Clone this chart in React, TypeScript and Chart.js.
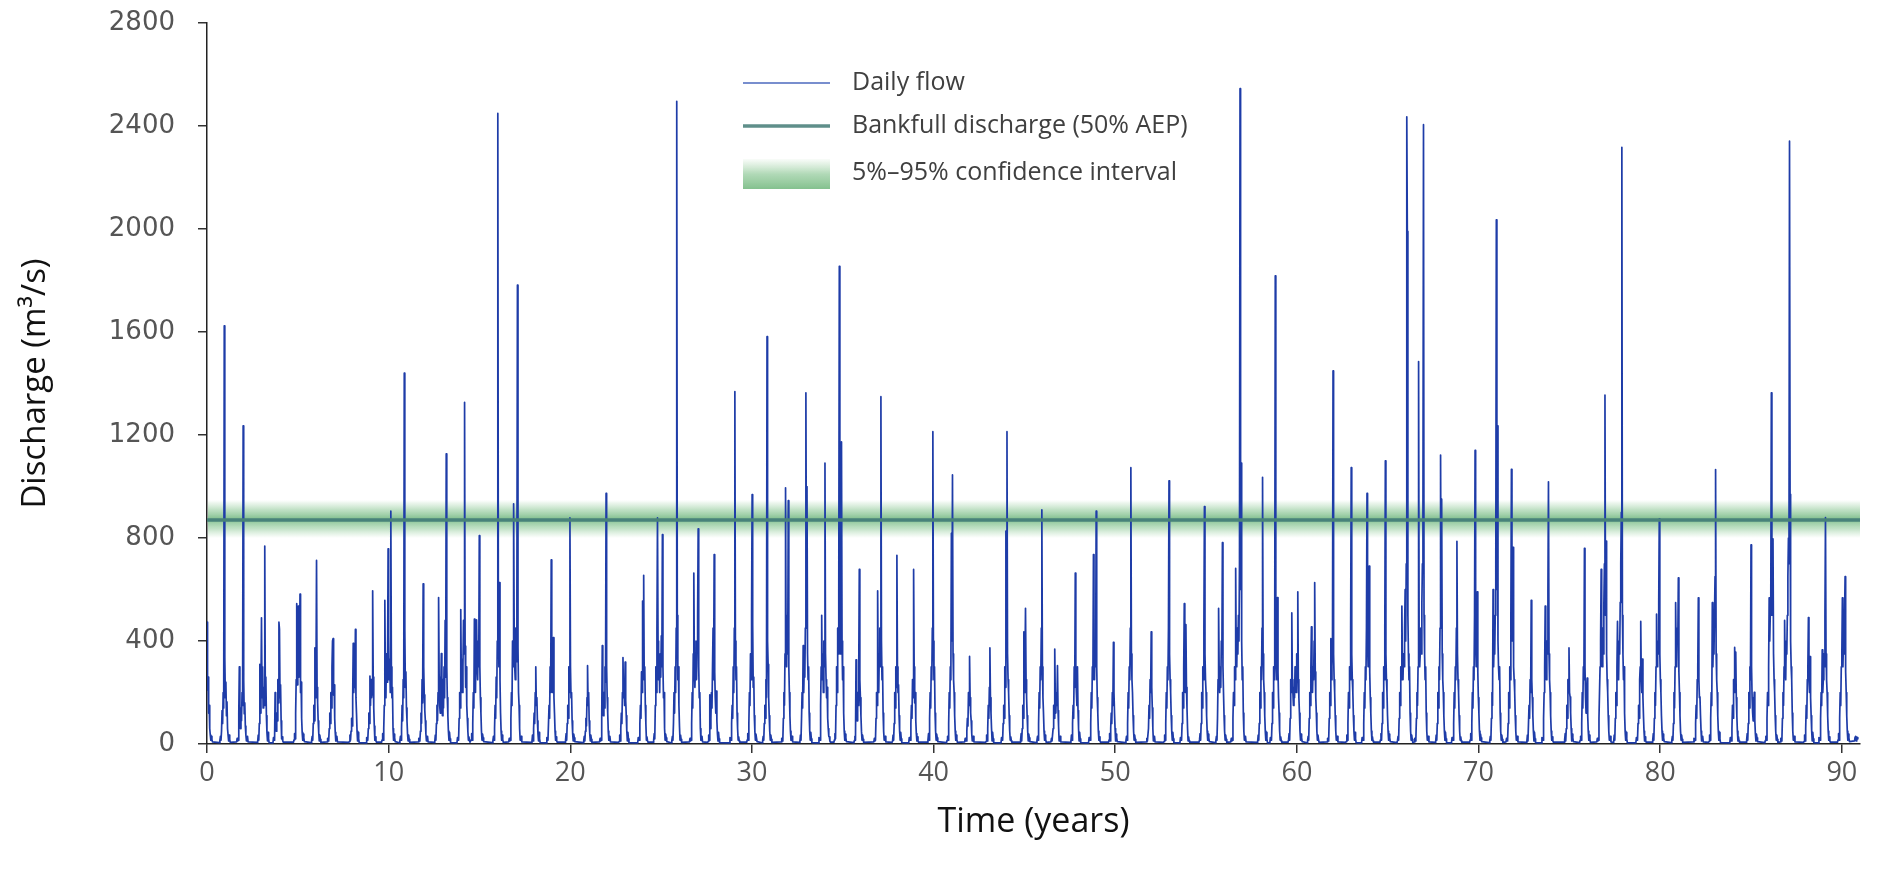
import React, { useEffect, useRef } from "react";
import { Chart, registerables } from "chart.js";

Chart.register(...registerables);

// ---------- data ----------
const xTickValues = [0, 10, 20, 30, 40, 50, 60, 70, 80, 90];
const yTickValues = [0, 400, 800, 1200, 1600, 2000, 2400, 2800];
const X_MAX = 91;
const Y_MAX = 2800;

const bankfullDischarge = 870;
const ciLower = 800;
const ciUpper = 948;

const legendLabels = [
  "Daily flow",
  "Bankfull discharge (50% AEP)",
  "5%\u201395% confidence interval",
];

// sampling interval inside each wet-season cluster (years)
const STEP = 0.03;

// start time (years) of each wet-season cluster
const seasonStart = [
  0.0, 0.68, 1.63, 2.76, 3.63, 4.76, 5.73, 6.61, 7.81, 8.76,
  9.61, 10.59, 11.63, 12.51, 13.76, 14.51, 15.71, 16.61, 17.86, 18.68,
  19.71, 20.71, 21.61, 22.66, 23.71, 24.56, 25.56, 26.56, 27.56, 28.76,
  29.71, 30.56, 31.61, 32.61, 33.66, 34.51, 35.61, 36.71, 37.71, 38.63,
  39.66, 40.71, 41.71, 42.86, 43.71, 44.76, 45.66, 46.46, 47.53, 48.53,
  49.63, 50.56, 51.71, 52.66, 53.56, 54.61, 55.51, 56.36, 57.81, 58.51,
  59.51, 60.56, 61.66, 62.69, 63.56, 64.57, 65.51, 66.46, 67.61, 68.51,
  69.51, 70.59, 71.51, 72.63, 73.46, 74.71, 75.56, 76.51, 77.41, 78.66,
  79.56, 80.61, 81.83, 82.66, 83.83, 84.73, 85.76, 86.61, 87.89, 88.71,
  89.76, 90.7,
];

// daily discharge (m3/s) within each cluster
const seasonFlow = [
  [473, 210, 260, 120, 150, 60, 35, 15, 30, 18, 8],
  [5, 14, 30, 15, 50, 130, 80, 200, 140, 1624, 336, 180, 240, 110, 164, 60, 35, 12, 35, 18, 6],
  [8, 22, 12, 15, 120, 300, 90, 60, 140, 90, 200, 150, 1236, 250, 118, 160, 70, 35, 12, 22, 30, 8],
  [6, 10, 35, 15, 80, 309, 120, 210, 490, 180, 300, 140, 220, 150, 769, 200, 260, 110, 45, 12, 45, 20, 5],
  [4, 25, 18, 15, 200, 70, 50, 120, 90, 250, 160, 473, 445, 180, 230, 90, 20, 28, 12, 7],
  [7, 16, 40, 20, 120, 250, 545, 230, 350, 536, 260, 320, 582, 200, 240, 100, 45, 15, 38, 24, 9],
  [5, 14, 30, 15, 80, 150, 90, 373, 180, 260, 713, 220, 160, 90, 45, 12, 35, 18, 6],
  [8, 22, 12, 15, 60, 120, 80, 200, 140, 300, 400, 409, 190, 230, 100, 45, 12, 22, 30, 8],
  [6, 10, 35, 15, 50, 100, 70, 180, 391, 200, 300, 220, 445, 180, 120, 50, 12, 45, 20, 5],
  [4, 25, 18, 15, 60, 120, 80, 264, 150, 250, 180, 200, 595, 260, 140, 70, 15, 28, 12, 7],
  [7, 16, 40, 15, 60, 150, 558, 260, 180, 350, 240, 300, 758, 420, 250, 330, 200, 904, 300, 180, 220, 60, 15, 38, 24, 9],
  [5, 14, 30, 15, 60, 150, 90, 250, 180, 1440, 445, 220, 280, 140, 90, 40, 12, 35, 18, 6],
  [8, 22, 12, 15, 50, 120, 80, 250, 160, 622, 300, 191, 130, 90, 40, 12, 22, 30, 8],
  [6, 10, 35, 15, 80, 150, 90, 200, 569, 260, 150, 120, 200, 351, 150, 110, 250, 140, 300, 180, 480, 260, 1127, 300, 180, 110, 50, 15, 45, 20, 5],
  [4, 25, 18, 15, 100, 200, 140, 522, 260, 330, 200, 300, 480, 350, 1327, 380, 220, 300, 150, 100, 50, 15, 28, 12, 7],
  [7, 16, 40, 15, 80, 200, 140, 485, 260, 200, 380, 482, 300, 250, 400, 300, 809, 300, 180, 120, 50, 15, 38, 24, 9],
  [5, 14, 30, 15, 60, 150, 100, 260, 180, 400, 2449, 500, 300, 627, 250, 120, 50, 15, 35, 18, 6],
  [8, 22, 12, 15, 100, 200, 150, 400, 300, 933, 450, 300, 250, 450, 320, 600, 1782, 380, 200, 150, 60, 15, 22, 30, 8],
  [6, 10, 35, 12, 60, 120, 80, 200, 300, 150, 180, 90, 40, 12, 45, 20, 5],
  [4, 25, 18, 15, 80, 150, 100, 300, 200, 715, 280, 200, 320, 413, 180, 120, 50, 15, 28, 12, 7],
  [7, 16, 40, 15, 80, 150, 100, 300, 200, 878, 300, 180, 200, 90, 40, 12, 38, 24, 9],
  [5, 14, 30, 12, 50, 100, 70, 180, 304, 150, 200, 90, 40, 12, 35, 18, 6],
  [8, 22, 12, 15, 100, 382, 150, 110, 200, 140, 300, 240, 973, 300, 180, 120, 50, 15, 22, 30, 8],
  [6, 10, 35, 12, 60, 120, 80, 200, 336, 180, 250, 150, 318, 170, 110, 50, 12, 45, 20, 5],
  [4, 25, 18, 15, 80, 150, 100, 280, 200, 555, 300, 655, 250, 300, 150, 80, 15, 28, 12, 7],
  [7, 16, 40, 20, 150, 300, 200, 450, 878, 400, 250, 320, 200, 350, 260, 420, 300, 813, 300, 180, 200, 60, 15, 38, 24, 9],
  [5, 14, 30, 15, 80, 200, 120, 300, 200, 450, 2496, 500, 250, 300, 150, 70, 15, 35, 18, 6],
  [8, 22, 12, 15, 80, 200, 140, 350, 664, 300, 220, 300, 400, 250, 380, 500, 836, 300, 180, 200, 60, 15, 22, 30, 8],
  [6, 10, 35, 15, 191, 60, 100, 200, 140, 300, 450, 250, 736, 280, 180, 120, 205, 90, 40, 12, 45, 20, 5],
  [4, 25, 18, 15, 80, 150, 100, 300, 200, 450, 1369, 400, 250, 300, 120, 60, 15, 28, 12, 7],
  [7, 16, 40, 15, 80, 200, 150, 350, 250, 500, 969, 464, 220, 260, 110, 50, 15, 38, 24, 9],
  [5, 14, 30, 15, 80, 150, 100, 250, 180, 1582, 400, 309, 180, 110, 50, 15, 35, 18, 6],
  [8, 22, 12, 15, 100, 200, 150, 350, 995, 400, 300, 500, 350, 945, 300, 200, 110, 50, 15, 22, 30, 8],
  [6, 10, 35, 15, 100, 200, 140, 382, 200, 300, 260, 450, 1364, 600, 1000, 350, 250, 300, 120, 50, 15, 45, 20, 5],
  [4, 25, 18, 15, 150, 300, 500, 250, 350, 200, 400, 300, 1091, 350, 250, 180, 220, 100, 60, 30, 28, 12, 7],
  [7, 16, 40, 20, 150, 300, 200, 450, 350, 600, 1855, 500, 350, 600, 1173, 400, 250, 300, 120, 50, 15, 38, 24, 9],
  [5, 14, 30, 15, 327, 120, 90, 200, 150, 300, 678, 250, 180, 110, 50, 15, 35, 18, 6],
  [8, 22, 12, 15, 100, 200, 150, 595, 300, 200, 350, 450, 300, 1349, 400, 250, 300, 120, 50, 15, 22, 30, 8],
  [6, 10, 35, 15, 80, 200, 140, 300, 220, 733, 300, 200, 230, 110, 50, 15, 45, 20, 5],
  [4, 25, 18, 15, 80, 150, 100, 250, 180, 678, 300, 160, 200, 90, 40, 12, 28, 12, 7],
  [7, 16, 40, 15, 100, 200, 140, 300, 250, 450, 1213, 400, 250, 300, 120, 50, 15, 38, 24, 9],
  [5, 14, 30, 15, 80, 200, 140, 300, 250, 818, 400, 1045, 350, 250, 200, 110, 50, 15, 35, 18, 6],
  [8, 22, 12, 12, 50, 100, 70, 200, 150, 340, 180, 120, 90, 40, 12, 22, 30, 8],
  [6, 10, 35, 12, 60, 150, 100, 220, 373, 180, 120, 60, 12, 45, 20, 5],
  [4, 25, 18, 15, 80, 150, 100, 300, 220, 827, 400, 1213, 350, 250, 200, 110, 50, 15, 28, 12, 7],
  [7, 16, 40, 12, 60, 150, 100, 436, 200, 300, 527, 250, 180, 110, 50, 12, 38, 24, 9],
  [5, 14, 30, 15, 80, 200, 140, 300, 250, 450, 909, 300, 180, 120, 50, 15, 35, 18, 6],
  [8, 22, 12, 12, 60, 150, 100, 369, 180, 120, 200, 150, 304, 130, 70, 12, 22, 30, 8],
  [6, 10, 35, 15, 80, 150, 100, 300, 220, 664, 280, 200, 150, 300, 130, 60, 12, 45, 20, 5],
  [4, 25, 18, 15, 80, 200, 140, 300, 250, 736, 350, 250, 400, 300, 904, 300, 180, 120, 50, 15, 28, 12, 7],
  [7, 16, 40, 12, 60, 120, 80, 200, 150, 395, 200, 120, 60, 12, 38, 24, 9],
  [5, 14, 30, 15, 80, 200, 140, 300, 250, 450, 1073, 350, 250, 200, 110, 50, 15, 35, 18, 6],
  [8, 22, 12, 12, 60, 150, 100, 250, 200, 436, 220, 140, 60, 12, 22, 30, 8],
  [6, 10, 35, 15, 80, 200, 140, 300, 250, 450, 1022, 350, 250, 200, 110, 50, 15, 45, 20, 5],
  [4, 25, 18, 15, 80, 200, 140, 300, 545, 280, 200, 464, 220, 140, 60, 12, 28, 12, 7],
  [7, 16, 40, 15, 80, 200, 140, 300, 250, 450, 922, 350, 250, 200, 110, 50, 15, 38, 24, 9],
  [5, 14, 30, 15, 100, 250, 527, 300, 200, 300, 220, 400, 350, 782, 300, 200, 110, 50, 15, 35, 18, 6],
  [8, 22, 12, 15, 100, 200, 150, 300, 250, 682, 350, 300, 450, 350, 500, 400, 700, 2545, 600, 1091, 400, 250, 300, 120, 50, 15, 22, 30, 8],
  [6, 10, 35, 15, 80, 200, 140, 300, 250, 450, 1036, 350, 250, 200, 110, 50, 15, 45, 20, 5],
  [4, 25, 18, 15, 80, 200, 140, 300, 250, 450, 1818, 450, 300, 250, 569, 280, 180, 120, 50, 15, 28, 12, 7],
  [7, 16, 40, 15, 100, 250, 200, 509, 250, 200, 150, 220, 180, 300, 250, 200, 350, 300, 591, 250, 180, 120, 50, 15, 38, 24, 9],
  [5, 14, 30, 15, 100, 200, 150, 300, 455, 250, 200, 300, 250, 400, 627, 280, 180, 120, 50, 15, 35, 18, 6],
  [8, 22, 12, 15, 100, 200, 150, 409, 250, 300, 400, 1449, 350, 250, 200, 110, 50, 15, 22, 30, 8],
  [6, 10, 35, 15, 80, 200, 140, 300, 250, 450, 1073, 350, 250, 200, 110, 50, 15, 45, 20, 5],
  [4, 25, 18, 15, 80, 200, 140, 300, 250, 450, 973, 400, 300, 400, 691, 280, 180, 120, 50, 15, 28, 12, 7],
  [7, 16, 40, 15, 80, 200, 140, 300, 250, 450, 1100, 350, 250, 200, 110, 50, 15, 38, 24, 9],
  [5, 14, 30, 15, 100, 200, 150, 300, 250, 536, 300, 250, 350, 300, 450, 600, 400, 700, 2436, 1991, 500, 350, 250, 300, 120, 50, 15, 35, 18, 6],
  [8, 22, 12, 20, 100, 200, 150, 300, 1485, 400, 300, 350, 450, 350, 550, 700, 900, 2405, 500, 350, 250, 300, 120, 50, 15, 22, 30, 8],
  [6, 10, 35, 15, 80, 200, 140, 300, 250, 450, 1122, 500, 951, 350, 250, 200, 110, 50, 15, 45, 20, 5],
  [4, 25, 18, 15, 80, 200, 140, 300, 250, 450, 787, 350, 250, 200, 110, 50, 15, 28, 12, 7],
  [7, 16, 40, 15, 80, 200, 140, 300, 250, 500, 1140, 400, 300, 350, 591, 280, 180, 120, 50, 15, 38, 24, 9],
  [5, 14, 30, 15, 100, 200, 150, 600, 300, 400, 350, 500, 700, 2036, 600, 1236, 400, 300, 250, 300, 120, 50, 15, 35, 18, 6],
  [8, 22, 12, 15, 80, 200, 140, 300, 250, 500, 1067, 400, 500, 764, 300, 250, 200, 110, 50, 15, 22, 30, 8],
  [6, 10, 35, 12, 80, 150, 100, 250, 200, 558, 250, 180, 110, 50, 12, 45, 20, 5],
  [4, 25, 18, 15, 100, 200, 300, 536, 300, 250, 400, 350, 600, 1018, 350, 250, 200, 110, 50, 15, 28, 12, 7],
  [7, 16, 40, 12, 60, 150, 100, 250, 200, 373, 200, 183, 120, 60, 12, 38, 24, 9],
  [5, 14, 30, 15, 80, 200, 140, 300, 250, 760, 300, 180, 120, 200, 256, 110, 50, 15, 35, 18, 6],
  [8, 22, 12, 15, 100, 200, 300, 400, 678, 400, 300, 450, 350, 550, 700, 1355, 500, 788, 350, 250, 200, 110, 50, 15, 22, 30, 8],
  [6, 10, 35, 15, 100, 200, 150, 300, 476, 300, 250, 400, 350, 550, 700, 900, 2317, 500, 350, 250, 300, 120, 50, 15, 45, 20, 5],
  [4, 25, 18, 15, 80, 150, 100, 250, 300, 476, 250, 200, 330, 180, 110, 50, 12, 28, 12, 7],
  [7, 16, 40, 15, 100, 200, 150, 300, 504, 300, 400, 350, 550, 874, 350, 250, 200, 110, 50, 15, 38, 24, 9],
  [5, 14, 30, 15, 80, 200, 140, 300, 549, 350, 300, 450, 400, 645, 280, 200, 110, 50, 15, 35, 18, 6],
  [8, 22, 12, 15, 80, 150, 100, 250, 300, 568, 250, 180, 183, 110, 50, 12, 22, 30, 8],
  [6, 10, 35, 15, 100, 200, 150, 549, 300, 400, 350, 500, 650, 1066, 350, 250, 200, 110, 50, 15, 45, 20, 5],
  [4, 25, 18, 12, 60, 150, 100, 250, 200, 375, 250, 357, 180, 110, 50, 12, 28, 12, 7],
  [7, 16, 40, 15, 80, 200, 140, 300, 250, 773, 300, 180, 120, 90, 150, 201, 90, 40, 12, 38, 24, 9],
  [5, 14, 30, 15, 100, 200, 150, 300, 568, 400, 500, 600, 1364, 500, 600, 797, 350, 250, 200, 110, 50, 15, 35, 18, 6],
  [8, 22, 12, 15, 100, 200, 150, 300, 480, 300, 250, 400, 350, 500, 650, 800, 700, 2341, 970, 400, 300, 250, 120, 50, 15, 22, 30, 8],
  [6, 10, 35, 12, 60, 150, 100, 250, 300, 491, 250, 200, 339, 180, 110, 50, 12, 45, 20, 5],
  [4, 25, 18, 15, 100, 200, 150, 366, 200, 250, 350, 300, 500, 879, 350, 250, 200, 110, 50, 15, 28, 12, 7],
  [7, 16, 40, 15, 100, 200, 150, 300, 350, 568, 300, 400, 350, 500, 650, 280, 200, 110, 50, 15, 38, 24, 9],
  [12, 27, 30, 12, 27, 25, 20],
];

// ---------- styling ----------
const FLOW_COLOR = "rgb(30, 60, 168)";
const BANKFULL_COLOR = "rgb(72, 130, 122)";
const TEXT_FONT = "'Open Sans', 'DejaVu Sans', sans-serif";
const YTICK_FONT = "'DejaVu Sans', sans-serif";

const bandGradient = (ctx: CanvasRenderingContext2D, y0: number, y1: number) => {
  const g = ctx.createLinearGradient(0, y0, 0, y1);
  g.addColorStop(0, "rgba(130,198,140,0)");
  g.addColorStop(0.25, "rgba(120,190,130,0.45)");
  g.addColorStop(0.5, "rgba(100,176,116,0.8)");
  g.addColorStop(0.75, "rgba(120,190,130,0.45)");
  g.addColorStop(1, "rgba(130,198,140,0)");
  return g;
};

const bandPlugin = {
  id: "ciBand",
  beforeDatasetsDraw(chart: any) {
    const { ctx, scales } = chart;
    const yTop = scales.y.getPixelForValue(ciUpper);
    const yBot = scales.y.getPixelForValue(ciLower);
    const x0 = scales.x.getPixelForValue(0);
    const x1 = scales.x.getPixelForValue(X_MAX);
    ctx.save();
    ctx.fillStyle = bandGradient(ctx, yTop, yBot);
    ctx.fillRect(x0 + 1, yTop, x1 - x0 - 1, yBot - yTop);
    ctx.restore();
  },
};

const legendPlugin = {
  id: "customLegend",
  afterDraw(chart: any) {
    const { ctx } = chart;
    const sx0 = 743;
    const sx1 = 830;
    const tx = 852;
    const rows = [83, 126, 173];
    ctx.save();
    // daily flow
    ctx.strokeStyle = "rgb(75, 105, 190)";
    ctx.lineWidth = 1.6;
    ctx.beginPath();
    ctx.moveTo(sx0, rows[0]);
    ctx.lineTo(sx1, rows[0]);
    ctx.stroke();
    // bankfull
    ctx.strokeStyle = "rgb(95, 143, 138)";
    ctx.lineWidth = 3.5;
    ctx.beginPath();
    ctx.moveTo(sx0, rows[1]);
    ctx.lineTo(sx1, rows[1]);
    ctx.stroke();
    // ci swatch
    const top = rows[2] - 14;
    const h = 30;
    const g = ctx.createLinearGradient(0, top, 0, top + h);
    g.addColorStop(0, "rgba(140,200,145,0.05)");
    g.addColorStop(0.5, "rgba(125,192,135,0.6)");
    g.addColorStop(1, "rgba(110,182,122,0.85)");
    ctx.fillStyle = g;
    ctx.fillRect(sx0, top, sx1 - sx0, h);
    // text
    ctx.fillStyle = "#404040";
    ctx.font = `25px ${TEXT_FONT}`;
    ctx.textBaseline = "middle";
    ctx.textAlign = "left";
    legendLabels.forEach((t, i) => ctx.fillText(t, tx, rows[i]));
    ctx.restore();
  },
};

export default function App() {
  const canvasRef = useRef<HTMLCanvasElement | null>(null);

  useEffect(() => {
    if (!canvasRef.current) return;
    const flowPoints = seasonStart.flatMap((t0, i) =>
      seasonFlow[i].map((v, j) => ({ x: t0 + j * STEP, y: v }))
    );
    const bankfullPoints = [
      { x: 0, y: bankfullDischarge },
      { x: X_MAX, y: bankfullDischarge },
    ];

    const chart = new Chart(canvasRef.current, {
      type: "line",
      data: {
        datasets: [
          {
            label: legendLabels[1],
            data: bankfullPoints,
            borderColor: BANKFULL_COLOR,
            borderWidth: 3.5,
            pointRadius: 0,
            order: 0,
          },
          {
            label: legendLabels[0],
            data: flowPoints,
            borderColor: FLOW_COLOR,
            borderWidth: 1.7,
            borderJoinStyle: "round",
            pointRadius: 0,
            tension: 0,
            order: 1,
          },
        ],
      },
      options: {
        responsive: false,
        animation: false,
        devicePixelRatio: 1,
        layout: { padding: { top: 23, right: 19, left: 0, bottom: 0 } },
        plugins: {
          legend: { display: false },
          tooltip: { enabled: false },
        },
        scales: {
          x: {
            type: "linear",
            min: 0,
            max: X_MAX,
            afterBuildTicks: (s: any) => {
              s.ticks = xTickValues.map((v) => ({ value: v }));
            },
            afterFit: (s: any) => {
              s.height = 133;
              s.paddingLeft = 0;
              s.paddingRight = 0;
            },
            grid: {
              drawOnChartArea: false,
              drawTicks: true,
              tickLength: 9,
              color: "#333",
              lineWidth: 1.5,
            },
            border: { display: true, color: "#222", width: 1.5 },
            ticks: {
              autoSkip: false,
              maxRotation: 0,
              padding: 4,
              color: "#555",
              font: { family: TEXT_FONT, size: 27 },
              callback: (v: any) => String(v),
            },
            title: {
              display: true,
              text: "Time (years)",
              color: "#111",
              font: { family: TEXT_FONT, size: 34 },
              padding: { top: 0, bottom: 34 },
            },
          },
          y: {
            type: "linear",
            min: 0,
            max: Y_MAX,
            afterBuildTicks: (s: any) => {
              s.ticks = yTickValues.map((v) => ({ value: v }));
            },
            afterFit: (s: any) => {
              s.width = 207;
              s.paddingTop = 0;
              s.paddingBottom = 0;
            },
            grid: {
              drawOnChartArea: false,
              drawTicks: true,
              tickLength: 9,
              color: "#333",
              lineWidth: 1.5,
            },
            border: { display: true, color: "#222", width: 1.5 },
            ticks: {
              autoSkip: false,
              padding: 23,
              color: "#555",
              font: { family: YTICK_FONT, size: 26 },
              callback: (v: any) => String(v),
            },
            title: {
              display: true,
              text: "Discharge (m\u00b3/s)",
              color: "#111",
              font: { family: TEXT_FONT, size: 33 },
              padding: { top: 16, bottom: 0 },
            },
          },
        },
      },
      plugins: [bandPlugin, legendPlugin],
    } as any);

    return () => chart.destroy();
  }, []);

  return (
    <div style={{ position: "fixed", left: 0, top: 0, width: 1879, height: 877, background: "#fff" }}>
      <canvas ref={canvasRef} width={1879} height={877} style={{ display: "block" }} />
    </div>
  );
}
